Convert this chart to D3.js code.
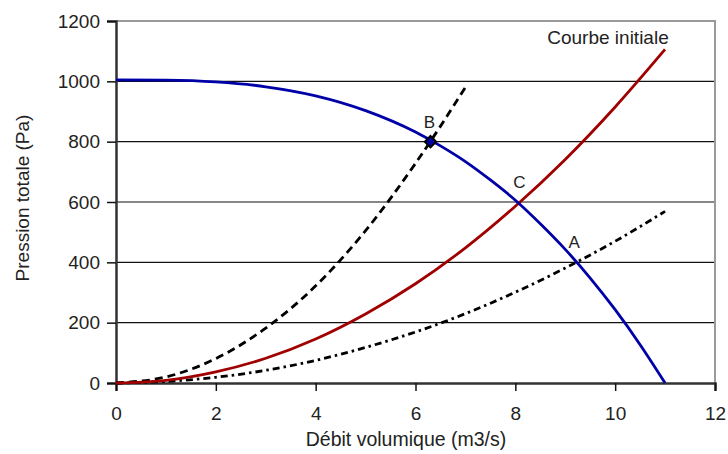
<!DOCTYPE html>
<html>
<head>
<meta charset="utf-8">
<script src="https://cdn.jsdelivr.net/npm/d3@7"></script>
<style>
  body { margin: 0; background: #fff; }
  text { font-family: "Liberation Sans", Arial, sans-serif; fill: #222; }
</style>
</head>
<body>
<div id="my_dataviz"></div>
<script>
// values
var xTicks = [0, 2, 4, 6, 8, 10, 12];
var yTicks = [0, 200, 400, 600, 800, 1000, 1200];

// fan curve (blue)
var fanX = [0, 1, 2, 3, 4, 5, 6, 6.5, 7, 7.5, 8, 8.5, 9, 9.5, 10, 10.5, 11];
var fanP = [1005, 1004, 998, 982, 952, 903, 832, 786, 734, 673, 606, 528, 443, 348, 243, 127, 0];

// courbe initiale (red)
var initX = [0, 1, 2, 3, 4, 5, 6, 7, 8, 9, 10, 11];
var initP = [0, 9, 37, 82, 146, 229, 329, 448, 586, 741, 915, 1106];

// dashed network curve (through B)
var bX = [0, 1, 2, 3, 4, 5, 6, 7];
var bP = [0, 20, 81, 182, 322, 505, 728, 980];

// dash-dot network curve (through A)
var aX = [0, 1, 2, 3, 4, 5, 6, 7, 8, 9, 10, 11];
var aP = [0, 5, 19, 42, 75, 118, 169, 230, 301, 381, 470, 569];

var pointLabels = ["A", "B", "C"];
var pointX = [9.2, 6.3, 8.1];
var pointP = [400, 800, 600];

var width = 728, height = 454;
var margin = {top: 21, right: 13, bottom: 71, left: 116};

var svg = d3.select("#my_dataviz")
    .append("svg")
    .attr("width", width)
    .attr("height", height);

var x = d3.scaleLinear().domain([0, 12]).range([margin.left, width - margin.right]);
var y = d3.scaleLinear().domain([0, 1200]).range([height - margin.bottom, margin.top]);

// horizontal grid lines
svg.selectAll("grid")
    .data(yTicks.filter(function (d) { return d > 0 && d < 1200; }))
    .enter()
    .append("line")
    .attr("x1", x(0)).attr("x2", x(12))
    .attr("y1", function (d) { return y(d); })
    .attr("y2", function (d) { return y(d); })
    .attr("stroke", "#111")
    .attr("stroke-width", 1.2);

// plot frame (top/right in grey)
svg.append("path")
    .attr("d", "M" + x(0) + "," + y(1200) + "H" + x(12) + "V" + y(0))
    .attr("fill", "none")
    .attr("stroke", "#9a9a9a")
    .attr("stroke-width", 2);

// axes
var yAxis = svg.append("g")
    .attr("transform", "translate(" + x(0) + ",0)")
    .call(d3.axisLeft(y).tickValues(yTicks).tickFormat(d3.format("d")).tickSize(9).tickPadding(7));
var xAxis = svg.append("g")
    .attr("transform", "translate(0," + y(0) + ")")
    .call(d3.axisBottom(x).tickValues(xTicks).tickFormat(d3.format("d")).tickSize(8).tickPadding(16));
[xAxis, yAxis].forEach(function (g) {
    g.select(".domain").attr("stroke", "#333").attr("stroke-width", 2.5);
    g.selectAll(".tick line").attr("stroke", "#111").attr("stroke-width", 1.5);
    g.selectAll(".tick text").style("font-size", "19px").attr("fill", "#222")
        .style("font-family", "'Liberation Sans', Arial, sans-serif");
});

var line = d3.line().curve(d3.curveMonotoneX)
    .x(function (d) { return x(d[0]); })
    .y(function (d) { return y(d[1]); });

function series(xs, ys, color, dash) {
    svg.append("path")
        .datum(xs.map(function (v, i) { return [v, ys[i]]; }))
        .attr("d", line)
        .attr("fill", "none")
        .attr("stroke", color)
        .attr("stroke-width", 2.8)
        .attr("stroke-dasharray", dash);
}

series(aX, aP, "#000", "7,4,2.5,4");
series(bX, bP, "#000", "8,5");
series(initX, initP, "#a00000", null);
series(fanX, fanP, "#0000a8", null);

// marker at B
svg.append("rect")
    .attr("x", x(6.3) - 4).attr("y", y(800) - 4)
    .attr("width", 8).attr("height", 8)
    .attr("transform", "rotate(45," + x(6.3) + "," + y(800) + ")")
    .attr("fill", "#0000a8")
    .attr("stroke", "#000")
    .attr("stroke-width", 2);

// point labels
svg.selectAll("ptLabels")
    .data(pointLabels)
    .enter()
    .append("text")
    .attr("x", function (d, i) { return x(pointX[i]) - 1; })
    .attr("y", function (d, i) { return y(pointP[i]) - 14; })
    .style("font-size", "17px")
    .style("text-anchor", "middle")
    .text(function (d) { return d; });

svg.append("text")
    .attr("x", 608).attr("y", 44)
    .style("font-size", "19px")
    .style("text-anchor", "middle")
    .text("Courbe initiale");

// axis titles
svg.append("text")
    .attr("x", 406).attr("y", 446)
    .style("font-size", "19.5px")
    .style("text-anchor", "middle")
    .text("Débit volumique (m3/s)");

svg.append("text")
    .attr("transform", "translate(29,198) rotate(-90)")
    .style("font-size", "19px")
    .style("text-anchor", "middle")
    .text("Pression totale (Pa)");
</script>
</body>
</html>
